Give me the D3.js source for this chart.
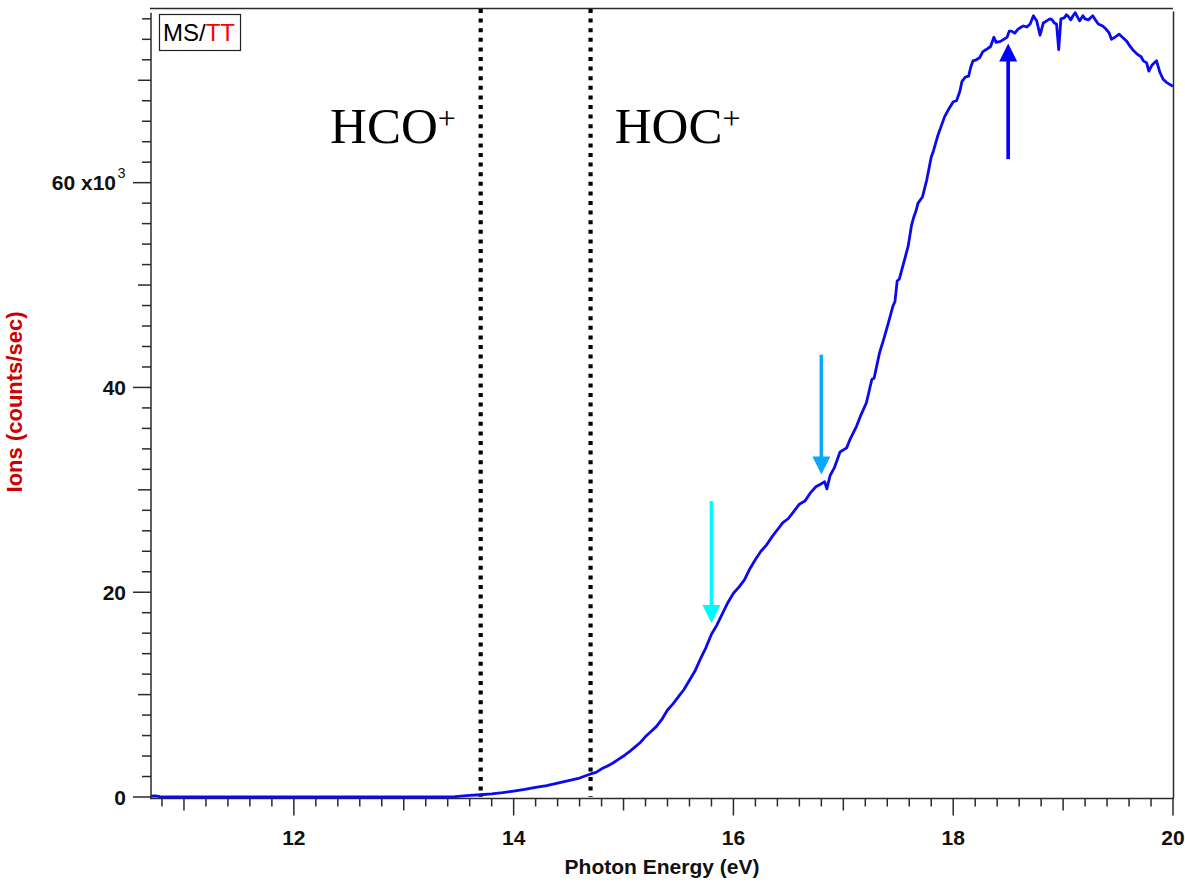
<!DOCTYPE html>
<html>
<head>
<meta charset="utf-8">
<script src="https://cdn.jsdelivr.net/npm/d3@7"></script>
<style>
  html, body { margin: 0; padding: 0; background: #fff; }
  svg { display: block; }
</style>
</head>
<body>
<svg id="chart" width="1185" height="883"></svg>
<script>
// ---------------- DATA ----------------
const energy = [10.70,10.74,10.78,10.85,11.5,12.5,13.3,13.45,13.52,13.6,13.7,13.8,13.9,14.0,14.1,14.2,14.3,14.4,14.5,14.6,14.65,14.7,14.75,14.8,14.85,14.9,14.95,15.0,15.05,15.1,15.15,15.2,15.25,15.3,15.35,15.4,15.45,15.5,15.55,15.6,15.65,15.7,15.75,15.8,15.85,15.9,15.95,16.0,16.05,16.1,16.15,16.2,16.25,16.3,16.35,16.4,16.45,16.5,16.55,16.6,16.65,16.7,16.75,16.8,16.83,16.85,16.88,16.92,16.97,17.03,17.06,17.12,17.16,17.21,17.26,17.28,17.33,17.37,17.41,17.45,17.47,17.49,17.51,17.55,17.59,17.62,17.64,17.66,17.68,17.72,17.76,17.80,17.82,17.86,17.89,17.92,17.96,18.00,18.03,18.06,18.08,18.11,18.14,18.16,18.18,18.21,18.24,18.27,18.30,18.34,18.37,18.39,18.43,18.46,18.49,18.51,18.53,18.56,18.59,18.62,18.64,18.67,18.70,18.73,18.76,18.79,18.82,18.85,18.88,18.90,18.92,18.94,18.96,18.98,19.01,19.03,19.05,19.07,19.09,19.11,19.13,19.15,19.18,19.20,19.23,19.25,19.27,19.30,19.32,19.36,19.39,19.42,19.44,19.47,19.51,19.55,19.58,19.61,19.64,19.68,19.71,19.73,19.76,19.78,19.81,19.85,19.88,19.91,19.94,19.97,20.0];
// ion counts in units of 10^3 counts/sec
const ionsThousands = [0.08,0.12,0.03,0,0,0,0,0.02,0.08,0.15,0.22,0.3,0.42,0.58,0.75,0.95,1.12,1.35,1.6,1.85,2.05,2.25,2.4,2.75,3.0,3.3,3.65,4.0,4.4,4.85,5.3,5.9,6.4,6.9,7.6,8.5,9.1,9.8,10.5,11.4,12.3,13.5,14.6,15.9,16.8,17.9,19.0,19.9,20.5,21.2,22.3,23.2,24.0,24.6,25.4,26.1,26.8,27.2,27.9,28.6,28.9,29.7,30.3,30.6,30.8,30.1,31.4,32.2,33.7,34.1,34.9,36.2,37.3,38.5,40.8,40.9,43.4,44.8,46.3,47.9,48.4,50.4,50.6,52.2,53.8,55.8,56.6,57.2,58.0,58.6,60.3,62.5,63.1,64.6,65.5,66.4,67.2,67.9,68.0,68.9,69.9,70.3,70.4,71.3,71.9,72.0,72.2,72.8,73.0,73.3,74.2,73.7,73.8,74.0,74.2,74.8,74.8,74.6,75.0,75.2,75.3,75.2,75.5,76.3,75.8,74.4,75.6,75.8,76.0,75.9,75.6,75.5,73.0,76.0,76.1,76.4,76.2,75.9,76.3,76.6,76.2,75.8,76.3,76.0,75.9,76.1,76.3,75.8,75.5,75.3,75.0,74.6,74.0,74.2,74.5,74.1,73.8,73.3,72.9,72.5,72.3,71.9,71.7,70.9,71.5,71.9,70.8,70.1,69.8,69.6,69.4];

const xTickValues = [12, 14, 16, 18, 20];
const xTickLabels = ["12", "14", "16", "18", "20"];
const yTickValues = [0, 20, 40, 60];
const yTickLabels = ["0", "20", "40", "60 x10"];

const thresholdEnergies = [13.7, 14.7];
const speciesLabels = ["HCO", "HOC"];
const speciesLabelEnergy = [12.33, 14.92];
const speciesLabelIons = [63.9, 63.9];

const arrowEnergy = [15.8, 16.8, 18.5];
const arrowFrom = [28.9, 43.2, 62.3];
const arrowTo = [17.0, 31.5, 73.6];
const arrowColors = ["#00f8ff", "#0aa8f8", "#0000ff"];

const xTitle = "Photon Energy (eV)";
const yTitle = "Ions (counts/sec)";

// ---------------- LAYOUT ----------------
const svg = d3.select("#chart");
const L = 151, R = 1173, T = 12.7, B = 797;
const x = d3.scaleLinear().domain([10.7, 20]).range([L, R]);
const y = d3.scaleLinear().domain([0, 76.6]).range([B, T]);
const axisColor = "#2a2a2a";
const fontSans = "Arial, 'Liberation Sans', Helvetica, sans-serif";

// frame
svg.append("line").attr("x1", L - 1).attr("x2", R).attr("y1", 8.5).attr("y2", 8.5)
  .attr("stroke", axisColor).attr("stroke-width", 1.5);
svg.append("line").attr("x1", R + 0.5).attr("x2", R + 0.5).attr("y1", 11.5).attr("y2", B + 1)
  .attr("stroke", axisColor).attr("stroke-width", 1.5);

// X axis ticks
const xMinor = d3.range(54, 101).map(i => i / 5); // 10.8 .. 20.0
const xAxisY = B + 1.5;
svg.append("line").attr("x1", L - 1).attr("x2", R + 1).attr("y1", xAxisY).attr("y2", xAxisY)
  .attr("stroke", axisColor).attr("stroke-width", 1.5);
svg.append("g").selectAll("line").data(xMinor).join("line")
  .attr("x1", d => x(d)).attr("x2", d => x(d))
  .attr("y1", xAxisY)
  .attr("y2", d => {
    const r = Math.round(d * 5);
    if (r % 10 === 0) return xAxisY + 17;
    if (r % 5 === 0) return xAxisY + 12;
    return xAxisY + 8;
  })
  .attr("stroke", axisColor).attr("stroke-width", 1.5);
svg.append("g").selectAll("text").data(xTickValues).join("text")
  .attr("x", d => x(d)).attr("y", 844.5)
  .attr("text-anchor", "middle")
  .attr("font-family", fontSans).attr("font-weight", "bold").attr("font-size", 21)
  .attr("fill", "#111")
  .text((d, i) => xTickLabels[i]);
svg.append("text").attr("x", 662).attr("y", 874)
  .attr("text-anchor", "middle")
  .attr("font-family", fontSans).attr("font-weight", "bold").attr("font-size", 21)
  .attr("fill", "#111").text(xTitle);

// Y axis
svg.append("line").attr("x1", L).attr("x2", L).attr("y1", T).attr("y2", xAxisY)
  .attr("stroke", axisColor).attr("stroke-width", 1.5);
const yMinor = d3.range(0, 39).map(i => i * 2);
svg.append("g").selectAll("line").data(yMinor).join("line")
  .attr("x1", L).attr("y1", d => y(d)).attr("y2", d => y(d))
  .attr("x2", d => {
    if (d % 20 === 0) return L - 18;
    if (d % 10 === 0) return L - 13;
    return L - 9;
  })
  .attr("stroke", axisColor).attr("stroke-width", 1.5);
svg.append("g").selectAll("text").data(yTickValues).join("text")
  .attr("x", d => d === 60 ? 116 : 126).attr("y", d => y(d) + 7.5)
  .attr("text-anchor", "end")
  .attr("font-family", fontSans).attr("font-weight", "bold").attr("font-size", 21)
  .attr("fill", "#111")
  .text((d, i) => yTickLabels[i]);
svg.append("text").attr("x", 117.5).attr("y", y(60) - 5)
  .attr("font-family", fontSans).attr("font-size", 14.5).attr("fill", "#111").text("3");
svg.append("text")
  .attr("transform", `translate(22, 402) rotate(-90)`)
  .attr("text-anchor", "middle")
  .attr("font-family", fontSans).attr("font-weight", "bold").attr("font-size", 22)
  .attr("fill", "#cc0000").text(yTitle);

// threshold dotted lines
svg.append("g").selectAll("line").data(thresholdEnergies).join("line")
  .attr("x1", d => x(d)).attr("x2", d => x(d))
  .attr("y1", 9).attr("y2", B)
  .attr("stroke", "#000").attr("stroke-width", 4.2)
  .attr("stroke-dasharray", "4,5.6");

// species labels
const sl = svg.append("g").selectAll("text").data(speciesLabels).join("text")
  .attr("x", (d, i) => x(speciesLabelEnergy[i]))
  .attr("y", (d, i) => y(speciesLabelIons[i]))
  .attr("font-family", "'Liberation Serif', 'Times New Roman', serif")
  .attr("font-size", 51).attr("fill", "#000");
sl.append("tspan").text(d => d);
sl.append("tspan").attr("font-size", 32).attr("dy", -14).text("+");

// curve
const pts = energy.map((e, i) => [e, ionsThousands[i]]);
svg.append("path").datum(pts)
  .attr("d", d3.line().x(d => x(d[0])).y(d => y(d[1])))
  .attr("fill", "none").attr("stroke", "#0a0af0").attr("stroke-width", 2.8)
  .attr("stroke-linejoin", "round");

// arrows
const ag = svg.append("g");
arrowEnergy.forEach((e, i) => {
  const x0 = x(e), y0 = y(arrowFrom[i]), y1 = y(arrowTo[i]);
  const dir = y1 > y0 ? 1 : -1;
  const headLen = 18, headHalf = 9;
  const yBase = y1 - dir * headLen;
  ag.append("line").attr("x1", x0).attr("x2", x0).attr("y1", y0).attr("y2", yBase + dir * 1)
    .attr("stroke", arrowColors[i]).attr("stroke-width", 3.6);
  ag.append("path")
    .attr("d", `M${x0 - headHalf},${yBase} L${x0 + headHalf},${yBase} L${x0},${y1} Z`)
    .attr("fill", arrowColors[i]);
});

// legend box
svg.append("rect").attr("x", 159.5).attr("y", 14.5).attr("width", 81).attr("height", 36)
  .attr("fill", "#fff").attr("stroke", "#222").attr("stroke-width", 1.2);
const lt = svg.append("text").attr("x", 163).attr("y", 41)
  .attr("font-family", fontSans).attr("font-size", 24);
lt.append("tspan").attr("fill", "#000").text("MS/");
lt.append("tspan").attr("fill", "#ff0000").text("TT");
</script>
</body>
</html>
